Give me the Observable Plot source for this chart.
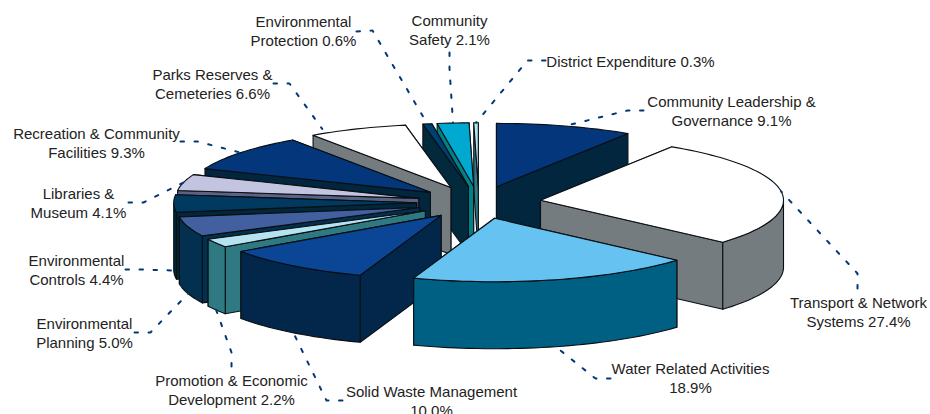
<!DOCTYPE html>
<html>
<head>
<meta charset="utf-8">
<style>html,body{margin:0;padding:0;background:#fff}svg{display:block}</style>
<script src="https://cdn.jsdelivr.net/npm/d3@7"></script>
<script src="https://cdn.jsdelivr.net/npm/@observablehq/plot@0.6"></script>
</head>
<body>
<div id="chart"></div>
<script>
const labels = ["Community Leadership &\nGovernance 9.1%","Transport & Network\nSystems 27.4%","Water Related Activities\n18.9%","Solid Waste Management\n10.0%","Promotion & Economic\nDevelopment 2.2%","Environmental\nPlanning 5.0%","Environmental\nControls 4.4%","Libraries &\nMuseum 4.1%","Recreation & Community\nFacilities 9.3%","Parks Reserves &\nCemeteries 6.6%","Environmental\nProtection 0.6%","Community\nSafety 2.1%","District Expenditure 0.3%"];
const values = [9.1,27.4,18.9,10.0,2.2,5.0,4.4,4.1,9.3,6.6,0.6,2.1,0.3];
const topColors = ["#03367a","#ffffff","#66c2f0","#0b4596","#b5e4f0","#42609f","#003a60","#c3c4e0","#03367a","#ffffff","#004070","#00a9d0","#b5e4f0"];
const sideColors = ["#02263e","#757c80","#006084","#02274a","#2f7a82","#03304f","#02263a","#5a6285","#02263e","#757c80","#022a3c","#008088","#2f7a82"];
const labelX = [731,858,690,431,231,84,76,78,96,212,303,449,630];
const labelY = [110,311,377,400,389,332,269,202,142,83,30,29,60];
const leaderStartX = [643,857,610,342,231,134,125,128,180,273,356,449,545];
const leaderStartY = [110,288,378,400,366,332,269,202,141,83,31,52,60];
const elbowX = [627,857,595,326,231,150,140,143,197,289,372,449,527];
const elbowY = [110,273,378,400,352,332,269,202,141,83,30,68,60];
const apexNudgeX = [0,0,0,0,0,0,0,0,0,-4,0,0,0];
const leaderEndNudgeX = [0,0,0,0,0,0,0,0,0,-35,0,0,0];
const cx = 478.4, cy = 202, rx = 243, ry = 63.5, depth = 67, explode = 0.256;

const arcs = d3.pie().sort(null).value(d => d)(values);
const slices = arcs.map((a, i) => {
  const m = (a.startAngle + a.endAngle) / 2;
  return {i, a0: a.startAngle, a1: a.endAngle, m,
    ax: cx + explode * rx * Math.sin(m) + apexNudgeX[i], ay: cy - explode * ry * Math.cos(m)};
}).sort((p, q) => p.ay - q.ay);

const faces = [];
function addFace(id, fill, pts) {
  [...pts, pts[0]].forEach(p => faces.push({id, fill, x: p[0], y: p[1]}));
}
const pt = (s, t, dz = 0) => [s.ax + rx * Math.sin(t), s.ay - ry * Math.cos(t) + dz];
for (const s of slices) {
  const side = sideColors[s.i], top = topColors[s.i];
  const radial = [s.a0, s.a1].map(t => ({t, y: pt(s, t)[1]})).sort((p, q) => p.y - q.y);
  radial.forEach((r, k) => addFace(`${s.i}-r${k}`, side, [[s.ax, s.ay], pt(s, r.t), pt(s, r.t, depth), [s.ax, s.ay + depth]]));
  const n = Math.max(2, Math.ceil((s.a1 - s.a0) / 0.03));
  const ts = d3.range(n + 1).map(k => s.a0 + (s.a1 - s.a0) * k / n);
  const front = ts.filter(t => Math.cos(t) <= 0);
  if (front.length > 1) addFace(`${s.i}-w`, side, [...front.map(t => pt(s, t)), ...front.slice().reverse().map(t => pt(s, t, depth))]);
  addFace(`${s.i}-t`, top, [[s.ax, s.ay], ...ts.map(t => pt(s, t))]);
}

const byIndex = d3.index(slices, s => s.i);
const leaders = values.flatMap((v, i) => {
  const s = byIndex.get(i), e = pt(s, s.m, Math.cos(s.m) < 0 ? depth : 0);
  e[0] += leaderEndNudgeX[i];
  return [[leaderStartX[i], leaderStartY[i]], [elbowX[i], elbowY[i]], e].map(p => ({i, x: p[0], y: p[1]}));
});
const texts = labels.map((t, i) => ({t, x: labelX[i], y: labelY[i]}));

const chart = Plot.plot({
  width: 930, height: 414, margin: 0,
  x: {domain: [0, 930], range: [0, 930], axis: null},
  y: {domain: [0, 414], range: [0, 414], axis: null},
  color: {type: "identity"},
  style: {background: "#fff"},
  marks: [
    Plot.line(faces, {x: "x", y: "y", z: "id", fill: "fill", stroke: "#0a0f14", strokeWidth: 1.1, strokeLinejoin: "round"}),
    Plot.line(leaders, {x: "x", y: "y", z: "i", stroke: "#003878", strokeWidth: 2, strokeDasharray: "3.5,10.5", fill: "none"}),
    Plot.text(texts, {x: "x", y: "y", text: "t", fill: "#222", fontSize: 15, fontFamily: "Liberation Sans", lineHeight: 1.28, textAnchor: "middle"})
  ]
});
document.getElementById("chart").appendChild(chart);
</script>
</body>
</html>
